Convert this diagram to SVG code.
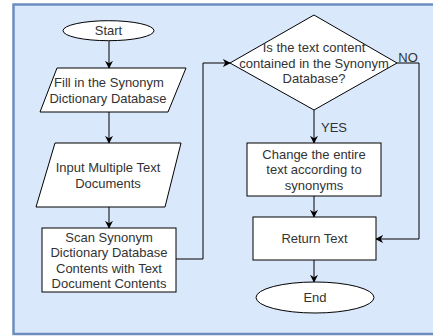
<svg xmlns="http://www.w3.org/2000/svg" width="433" height="336" viewBox="0 0 433 336">
<defs>
<marker id="arr" viewBox="0 0 10 10" refX="9" refY="5" markerWidth="8" markerHeight="8" markerUnits="userSpaceOnUse" orient="auto">
<path d="M0,0 L10,5 L0,10 L3,5 Z" fill="#000"/>
</marker>
</defs>
<style>
.shape{fill:#ffffff;stroke:#000000;stroke-width:1}
.t{font-family:"Liberation Sans",Arial,sans-serif;font-size:13px;fill:#333333;text-anchor:middle;dominant-baseline:central}
.c{fill:none;stroke:#000000;stroke-width:1;marker-end:url(#arr)}
.lbl{font-family:"Liberation Sans",Arial,sans-serif;font-size:13px;fill:#333333;text-anchor:middle;dominant-baseline:central}
</style>
<rect x="13.5" y="4.5" width="430" height="329.5" fill="#dae8fc" stroke="#6c8ebf" stroke-width="2.5"/>
<g id="connectors">
<path class="c" d="M109,41 L109,68"/>
<path class="c" d="M109,112 L109,143"/>
<path class="c" d="M109,207 L109,228"/>
<path class="c" d="M176,259 L203,259 L203,63 L230,63"/>
<path class="c" d="M314,110 L314,143"/>
<path class="c" d="M397,63 L419,63 L419,239 L376,239"/>
<path class="c" d="M314,196 L314,217"/>
<path class="c" d="M314,260 L314,282"/>
<text class="lbl" x="334" y="127">YES</text>
<text class="lbl" x="408" y="57">NO</text>
</g>
<g id="start">
<ellipse class="shape" cx="108.5" cy="30.7" rx="45.5" ry="10"/>
<text class="t" x="108.5" y="30.7">Start</text>
</g>
<g id="fill-db">
<polygon class="shape" points="57,68 186,68 168,112 40,112"/>
<text class="t" x="109" y="82">Fill in the Synonym</text>
<text class="t" x="108" y="98">Dictionary Database</text>
</g>
<g id="input-docs">
<polygon class="shape" points="55,143 181,143 165,207 36,207"/>
<text class="t" x="108" y="167">Input Multiple Text</text>
<text class="t" x="108" y="183">Documents</text>
</g>
<g id="scan">
<rect class="shape" x="42" y="228" width="134" height="64"/>
<text class="t" x="109" y="237">Scan Synonym</text>
<text class="t" x="109" y="252.5">Dictionary Database</text>
<text class="t" x="109" y="268">Contents with Text</text>
<text class="t" x="109" y="283.5">Document Contents</text>
</g>
<g id="decision">
<polygon class="shape" points="314,15 397,63 314,110 230,63"/>
<text class="t" x="314" y="47.5">Is the text content</text>
<text class="t" x="314" y="63">contained in the Synonym</text>
<text class="t" x="314" y="78.5">Database?</text>
</g>
<g id="change">
<rect class="shape" x="247" y="143" width="134" height="53"/>
<text class="t" x="314" y="154">Change the entire</text>
<text class="t" x="314" y="169.5">text according to</text>
<text class="t" x="314" y="185">synonyms</text>
</g>
<g id="return">
<rect class="shape" x="253" y="217" width="123" height="43"/>
<text class="t" x="314.5" y="238.5">Return Text</text>
</g>
<g id="end">
<ellipse class="shape" cx="315" cy="297.5" rx="59" ry="15.5"/>
<text class="t" x="315" y="297.5">End</text>
</g>
</svg>
